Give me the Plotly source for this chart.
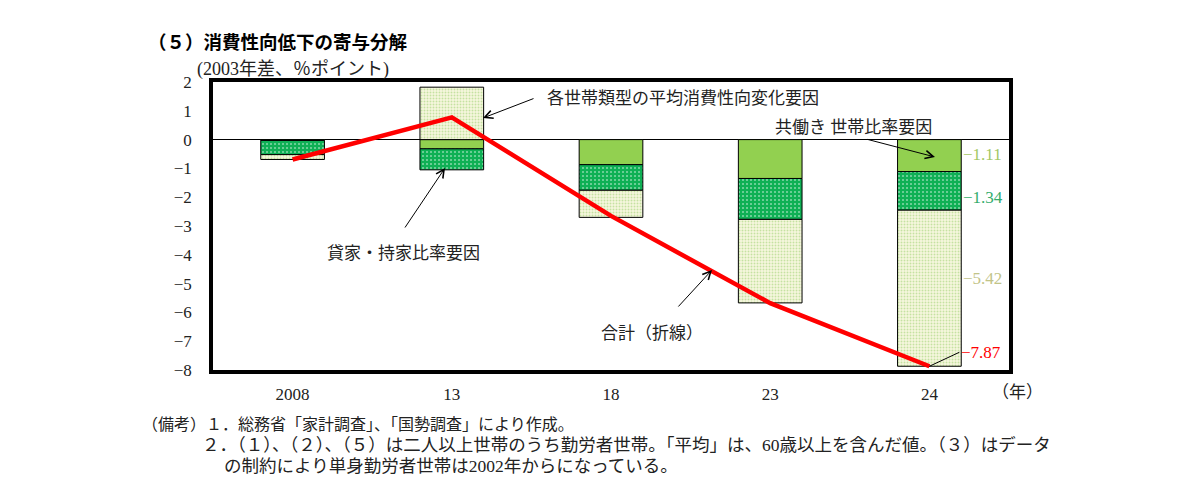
import plotly.graph_objects as go

# 年（2003年差、%ポイント）
years = ["2008", "13", "18", "23", "24"]
tomobataraki = [-0.03, -0.32, -0.87, -1.35, -1.11]   # 共働き世帯比率要因
kashiya = [-0.49, -0.73, -0.89, -1.42, -1.34]        # 貸家・持家比率要因
heikin = [-0.17, 1.82, -0.94, -2.90, -5.42]          # 各世帯類型の平均消費性向変化要因
goukei = [-0.69, 0.77, -2.65, -5.68, -7.87]          # 合計（折線）

y_ticks = [2, 1, 0, -1, -2, -3, -4, -5, -6, -7, -8]

SERIF = "Liberation Serif, Noto Sans CJK JP"
GOTHIC = "Noto Sans CJK JP"

W, H = 1204, 478
OFF = 8  # page body margin
# plot area in page pixels
L, R, T, B = 213, 1009, 82, 370


def px(x):
    return (x - L) / (R - L)


def py(y):
    return (B - y) / (B - T)


def text_at(x, y, t, size=17, family=SERIF, color="#222"):
    return dict(xref="paper", yref="paper", x=px(x), y=py(y),
                xanchor="left", yanchor="middle", text=t, showarrow=False,
                font=dict(family=family, size=size, color=color))


fig = go.Figure()

fig.add_trace(go.Bar(
    x=years, y=tomobataraki, name="共働き世帯比率要因", width=0.4,
    marker=dict(color="#92d050", line=dict(color="black", width=1)),
))
fig.add_trace(go.Bar(
    x=years, y=kashiya, name="貸家・持家比率要因", width=0.4,
    marker=dict(color="#0fb055", line=dict(color="black", width=1),
                pattern=dict(shape=".", bgcolor="#0fb055", fgcolor="white",
                             size=4, solidity=0.2)),
))
fig.add_trace(go.Bar(
    x=years, y=heikin, name="各世帯類型の平均消費性向変化要因", width=0.4,
    marker=dict(color="#f3f5d8", line=dict(color="black", width=1),
                pattern=dict(shape=".", bgcolor="#f7f7df", fgcolor="#94cc66",
                             size=3, solidity=0.35)),
))
fig.add_trace(go.Scatter(
    x=years, y=goukei, name="合計（折線）", mode="lines",
    line=dict(color="#ff0000", width=4.5),
))

ann = []

# legend-like labels
ann.append(text_at(545, 98, "各世帯類型の平均消費性向変化要因"))
ann.append(text_at(773, 127, "共働き 世帯比率要因"))
ann.append(text_at(325, 253, "貸家・持家比率要因"))
ann.append(text_at(599, 333, "合計（折線）"))

# arrows (head, tail) in page pixels
arrows = [((483, 118), (535, 98)),
          ((935, 157), (866, 139)),
          ((445, 168), (404, 229)),
          ((712, 270), (677, 308))]
for (hx, hy), (tx, ty) in arrows:
    ann.append(dict(xref="paper", yref="paper", x=px(hx), y=py(hy),
                    ax=tx - hx, ay=ty - hy, text="", showarrow=True,
                    arrowhead=5, arrowsize=1.6, arrowwidth=1, arrowcolor="black"))

# values of the last year to the right of the bar
last = len(years) - 1
parts = [tomobataraki[last], kashiya[last], heikin[last]]
colors = ["#a3c865", "#33ad6c", "#c2c488"]
shifts = [1, -7, 10]
base = 0.0
for v, c, s in zip(parts, colors, shifts):
    ann.append(dict(x=last, y=base + v / 2, xshift=32, yshift=s, xanchor="left",
                    text="−%.2f" % abs(v), showarrow=False,
                    font=dict(family=SERIF, size=17, color=c)))
    base += v

ann.append(dict(x=last, y=goukei[last], text="−%.2f" % abs(goukei[last]),
                ax=30, ay=-14, xanchor="left", showarrow=True,
                arrowhead=0, arrowwidth=1, arrowcolor="black",
                font=dict(family=SERIF, size=17, color="#ff0000")))

# titles and notes
ann.append(text_at(146, 41, "<b>（５）消費性向低下の寄与分解</b>", size=18.5,
                   family=GOTHIC, color="black"))
ann.append(text_at(195, 69, "(2003年差、％ポイント)", size=18))
ann.append(text_at(990, 392, "（年）"))

ann.append(text_at(140, 424, "（備考）１．総務省「家計調査」、「国勢調査」により作成。", size=16))
ann.append(text_at(200, 445, "２．（１）、（２）、（５）は二人以上世帯のうち勤労者世帯。「平均」は、60歳以上を含んだ値。（３）はデータ", size=17.5))
ann.append(text_at(222, 466, "の制約により単身勤労者世帯は2002年からになっている。", size=17.5))

fig.update_layout(
    width=W, height=H,
    margin=dict(l=L - OFF, r=W + OFF - R, t=T - OFF, b=H + OFF - B),
    barmode="relative",
    showlegend=False,
    plot_bgcolor="white", paper_bgcolor="white",
    annotations=ann,
    font=dict(family=SERIF, size=17, color="#222"),
)
fig.update_xaxes(
    type="category", range=[-0.5, 4.5],
    showline=True, mirror=True, linecolor="black", linewidth=3.5,
    showgrid=False, ticks="", ticklabelstandoff=6,
    tickfont=dict(family=SERIF, size=17, color="#222"),
)
fig.update_yaxes(
    range=[-8, 2], tickvals=y_ticks,
    showline=True, mirror=True, linecolor="black", linewidth=3.5,
    showgrid=False, zeroline=True, zerolinecolor="black", zerolinewidth=1,
    ticks="", ticklabelstandoff=14,
    tickfont=dict(family=SERIF, size=17, color="#222"),
)

fig.write_html("out.html")
